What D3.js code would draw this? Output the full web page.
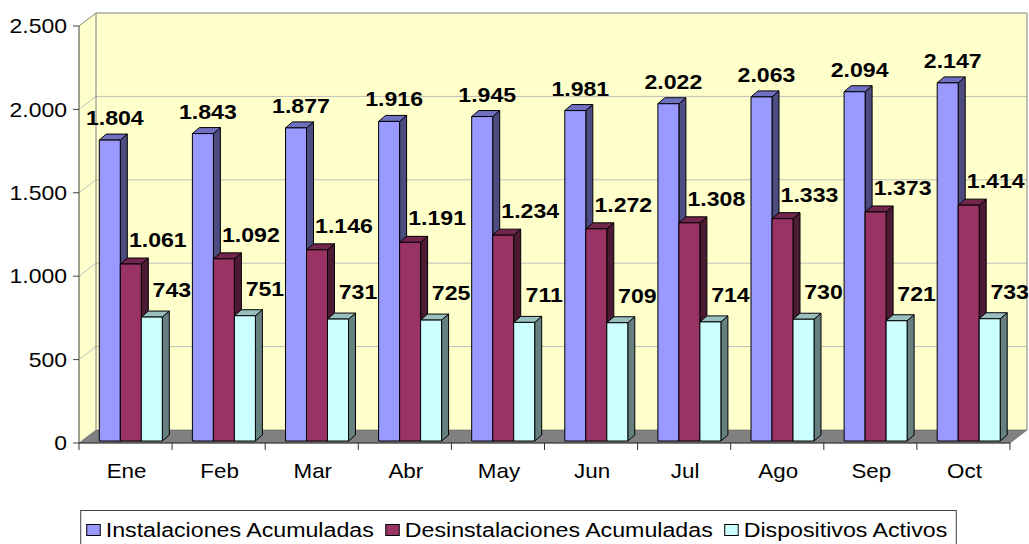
<!DOCTYPE html>
<html><head><meta charset="utf-8">
<script src="https://cdn.jsdelivr.net/npm/d3@7"></script>
<style>
body{margin:0;background:#fff}
svg{display:block}
text{font-family:"Liberation Sans",Arial,Helvetica,sans-serif;fill:#000}
</style>
</head><body>
<svg id="c" width="1029" height="544"></svg>
<script>
// ---- data ----
const categories = ["Ene","Feb","Mar","Abr","May","Jun","Jul","Ago","Sep","Oct"];
const seriesNames = ["Instalaciones Acumuladas","Desinstalaciones Acumuladas","Dispositivos Activos"];
const instalaciones = [1804,1843,1877,1916,1945,1981,2022,2063,2094,2147];
const desinstalaciones = [1061,1092,1146,1191,1234,1272,1308,1333,1373,1414];
const activos = [743,751,731,725,711,709,714,730,721,733];
const yTicks = [0,500,1000,1500,2000,2500];

// ---- styles ----
const palette = [
  {front:"#9999FF", top:"#7070C0", side:"#4C4C80"},
  {front:"#993366", top:"#73264D", side:"#4D1A33"},
  {front:"#CCFFFF", top:"#99BFBF", side:"#668080"}
];
const labelOff = [{dx:5,dy:-15},{dx:27,dy:-17},{dx:20,dy:-20}];
const seriesValues = [instalaciones, desinstalaciones, activos];

const svg = d3.select("#c");
svg.append("rect").attr("width",1029).attr("height",544).attr("fill","#fff");

const fmt = d3.formatLocale({decimal:",",thousands:".",grouping:[3],currency:["","€"]}).format(",d");

// geometry
const DX = 17, DY = -13;          // wall depth
const BDX = 7, BDY = -6;          // bar depth
const BOX = 2.6, BOY = -2;        // bar plane offset
const x0 = d3.scaleBand().domain(categories).range([79,1010]).padding(0);
const x1 = d3.scaleBand().domain(d3.range(seriesNames.length)).range([17.7,80.7]).padding(0);
const y = d3.scaleLinear().domain([0,2500]).range([443,26]);

const L = x0.range()[0], R = x0.range()[1];
const yTop = y(2500), yBot = y(0);

// walls
svg.append("polygon")
  .attr("points",[[L,yTop],[L+DX,yTop+DY],[L+DX,yBot+DY],[L,yBot]].join(" "))
  .attr("fill","#FFFFCC");
svg.append("rect")
  .attr("x",L+DX).attr("y",yTop+DY).attr("width",R-L).attr("height",yBot-yTop)
  .attr("fill","#FFFFCC");

// gridlines
const gridVals = yTicks.filter(v=>v>0 && v<2500);
svg.append("g").selectAll("line").data(gridVals).join("line")
  .attr("x1",L+DX).attr("x2",R+DX).attr("y1",d=>y(d)+DY).attr("y2",d=>y(d)+DY)
  .attr("stroke","#BFBFBF").attr("stroke-width",1);
svg.append("g").selectAll("line").data(gridVals).join("line")
  .attr("x1",L).attr("x2",L+DX).attr("y1",d=>y(d)).attr("y2",d=>y(d)+DY)
  .attr("stroke","#BFBFBF").attr("stroke-width",1);

// wall borders
svg.append("path")
  .attr("d",`M${L},${yTop}L${L+DX},${yTop+DY}L${R+DX},${yTop+DY}L${R+DX},${yBot+DY}`)
  .attr("fill","none").attr("stroke","#808080").attr("stroke-width",1);
svg.append("line")
  .attr("x1",L+DX).attr("x2",L+DX).attr("y1",yTop+DY).attr("y2",yBot+DY)
  .attr("stroke","#808080").attr("stroke-width",1);

// floor
svg.append("polygon")
  .attr("points",[[L,yBot],[R,yBot],[R+DX,yBot+DY],[L+DX,yBot+DY]].join(" "))
  .attr("fill","#808080").attr("stroke","#606060").attr("stroke-width",0.6);

// y axis
svg.append("line").attr("x1",L).attr("x2",L).attr("y1",yTop).attr("y2",yBot)
  .attr("stroke","#404040").attr("stroke-width",1);
const yg = svg.append("g");
yg.selectAll("line").data(yTicks).join("line")
  .attr("x1",L-6).attr("x2",L).attr("y1",d=>y(d)).attr("y2",d=>y(d))
  .attr("stroke","#404040");
yg.selectAll("text").data(yTicks).join("text")
  .attr("transform",d=>`translate(67,${y(d)+7.2}) scale(1.15,1)`)
  .attr("text-anchor","end").attr("font-size",20)
  .text(d=>fmt(d));

// x axis
svg.append("line").attr("x1",L).attr("x2",R).attr("y1",yBot).attr("y2",yBot)
  .attr("stroke","#303030");
const xTickPos = categories.map(c=>x0(c)).concat([R]);
svg.append("g").selectAll("line").data(xTickPos).join("line")
  .attr("x1",d=>d).attr("x2",d=>d).attr("y1",yBot).attr("y2",yBot+7)
  .attr("stroke","#303030");
svg.append("g").selectAll("text").data(categories).join("text")
  .attr("transform",d=>`translate(${x0(d)+x0.bandwidth()/2+1},478) scale(1.12,1)`)
  .attr("text-anchor","middle").attr("font-size",20)
  .text(d=>d);

// bars
const barsG = svg.append("g");
const bw = x1.bandwidth();
const pts = [];
categories.forEach((c,ci)=>{
  seriesValues.forEach((vals,si)=>{
    const v = vals[ci];
    const x = x0(c)+x1(si)+BOX;
    const yt = y(v)+BOY, yb = y(0)+BOY;
    const col = palette[si];
    const g = barsG.append("g").attr("stroke","#000").attr("stroke-width",1).attr("stroke-linejoin","round");
    g.append("polygon").attr("points",[[x+bw,yt],[x+bw+BDX,yt+BDY],[x+bw+BDX,yb+BDY],[x+bw,yb]].join(" "))
      .attr("fill",col.side);
    g.append("polygon").attr("points",[[x,yt],[x+bw,yt],[x+bw+BDX,yt+BDY],[x+BDX,yt+BDY]].join(" "))
      .attr("fill",col.top);
    g.append("rect").attr("x",x).attr("y",yt).attr("width",bw).attr("height",yb-yt)
      .attr("fill",col.front);
    pts.push({x:x+bw/2, y:yt, v, si});
  });
});

// labels
svg.append("g").selectAll("text").data(pts).join("text")
  .attr("transform",d=>`translate(${d.x+labelOff[d.si].dx},${d.y+labelOff[d.si].dy}) scale(1.1,1)`)
  .attr("text-anchor","middle").attr("font-size",21).attr("font-weight","bold")
  .text(d=>fmt(d.v));

// legend
const lg = svg.append("g");
const SX = 1.16, gapItem = 12, mW = 13.5, mH = 11, mGap = 5.5;
const items = seriesNames.map((n,i)=>{
  const g = lg.append("g");
  g.append("rect").attr("width",mW).attr("height",mH).attr("fill",palette[i].front)
    .attr("stroke","#000").attr("stroke-width",1);
  const t = g.append("text").attr("font-size",20).attr("transform",`translate(${mW+mGap},12.5) scale(${SX},1)`).text(n);
  const w = mW + mGap + t.node().getComputedTextLength()*SX;
  return {g,w};
});
const total = d3.sum(items,d=>d.w) + gapItem*(items.length-1);
const cx = 517;
let lx = cx - total/2;
const boxL = lx - 6, boxR = cx + total/2 + 9;
lg.insert("rect",":first-child").attr("x",boxL).attr("y",510.5).attr("width",boxR-boxL).attr("height",40)
  .attr("fill","#fff").attr("stroke","#404040").attr("stroke-width",1);
items.forEach(it=>{
  it.g.attr("transform",`translate(${lx},524.5)`);
  lx += it.w + gapItem;
});
</script>
</body></html>
